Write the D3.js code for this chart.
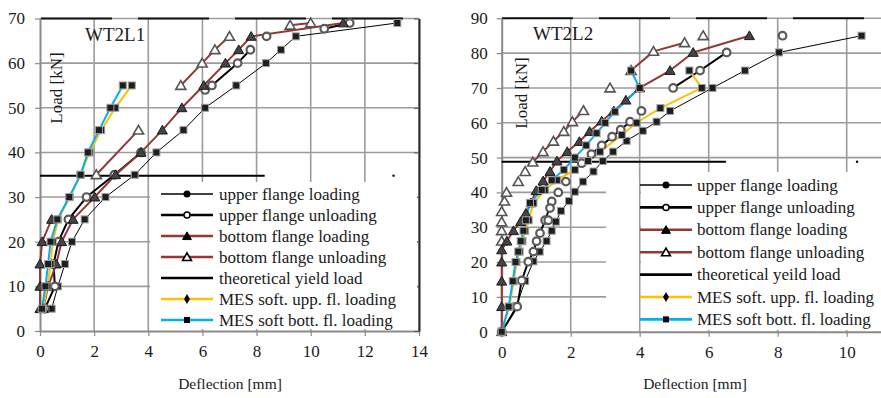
<!DOCTYPE html>
<html>
<head>
<meta charset="utf-8">
<script src="https://cdn.jsdelivr.net/npm/d3@7"></script>
<style>
  body { margin: 0; background: #fff; }
  svg { display: block; font-family: "Liberation Serif", "Times New Roman", serif; }
</style>
</head>
<body>
<svg id="chart" width="881" height="398"></svg>
<script>
// legend texts (right panel keeps the original "yeild" spelling)
const legendLeft = ["upper flange loading", "upper flange unloading", "bottom flange loading",
  "bottom flange unloading", "theoretical yield load", "MES soft. upp. fl. loading", "MES soft bott. fl. loading"];
const legendRight = ["upper flange loading", "upper flange unloading", "bottom flange loading",
  "bottom flange unloading", "theoretical yeild load", "MES soft. upp. fl. loading", "MES soft bott. fl. loading"];
const xLabel = "Deflection [mm]";
const yLabel = "Load [kN]";

// ---- WT2L1 : [deflection mm, load kN], each series is a list of segments
const l1Title = "WT2L1";
const l1XTicks = [0, 2, 4, 6, 8, 10, 12, 14];
const l1YTicks = [0, 10, 20, 30, 40, 50, 60, 70];
const l1UpLoad = [[[0.43,5],[0.66,10],[0.92,15],[1.18,20],[1.65,25],[2.42,30],[3.5,35],[4.3,40],[5.3,45],[6.1,50],[7.25,55],[8.35,60],[8.9,63],[9.45,66],[13.2,69]]];
const l1UpUnload = [
  [[0.18,5],[0.55,10],[0.5,15],[0.68,20],[1.05,25],[1.72,30],[2.75,35],[3.73,40]],
  [[6.1,54],[6.35,55],[7.3,60],[7.77,63]],
  [[10.5,67.7],[11.44,69]],
  [[8.37,66]]
];
const l1BotLoad = [
  [[0,5],[0,10],[0,15],[0.08,20],[0.43,25]],
  [[0.12,5],[0.3,10],[0.6,15],[0.8,20],[1.22,25],[2.02,30],[2.79,35],[3.73,40],[4.52,45],[5.24,50],[6.05,55],[6.85,60],[7.34,63],[7.8,66],[11.2,69]]
];
const l1BotUnload = [
  [[2.08,35],[3.64,45]],
  [[5.2,55],[5.99,60],[6.46,63],[7.0,66]],
  [[9.24,68.5],[10.0,69]]
];
const l1MesUpp = [[[0.1,5],[0.28,10],[0.39,15],[0.47,20],[0.67,25],[1.1,30],[1.49,35],[1.83,40],[2.26,45],[2.78,50],[3.39,55]]];
const l1MesBott = [[[0.07,5],[0.2,10],[0.3,15],[0.39,20],[0.64,25],[1.08,30],[1.5,35],[1.77,40],[2.18,45],[2.6,50],[3.06,55]]];
const l1Yield = [[[0,34.8],[8.3,34.8]], [[13.06,34.8]]];

// ---- WT2L2
const l2Title = "WT2L2";
const l2XTicks = [0, 2, 4, 6, 8, 10];
const l2YTicks = [0, 10, 20, 30, 40, 50, 60, 70, 80, 90];
const l2UpLoad = [[[0,0],[0.43,7.4],[0.68,14.6],[0.92,20.2],[1.1,23],[1.3,26],[1.45,29],[1.57,31.6],[1.72,34.7],[1.95,37.5],[2.12,40.2],[2.36,43.1],[2.66,46],[2.93,49],[3.23,51.7],[3.62,54.8],[4.09,57.7],[4.49,60.3],[4.88,63.4],[6.11,70],[7.05,75],[8.04,80.2],[10.43,85]]];
const l2UpUnload = [
  [[0,0],[0.45,7.2],[0.58,14.7],[0.77,20.1],[0.92,23],[1.01,26],[1.11,28.3],[1.26,32],[1.45,37.4]],
  [[2.32,48.4],[2.6,51],[2.9,53.5],[3.2,56],[3.45,58],[3.72,60.3]],
  [[4.97,70],[5.75,75],[6.52,80.2]],
  [[1.35,32]], [[1.4,35.5]], [[1.64,40]], [[1.86,43.1]], [[4.05,63.4]], [[8.14,85]]
];
const l2BotLoad = [[[0,0],[0,7.2],[0,14.5],[0,20],[0,23.5],[0.15,26],[0.34,29],[0.55,31.6],[0.7,34],[0.85,37],[1.0,40.5],[1.2,43.3],[1.4,46],[1.6,49],[1.9,51.7],[2.25,54.6],[2.55,57.5],[2.9,60.5],[3.25,63.4],[3.6,66.5],[4.0,70],[4.88,75],[5.55,80.2],[7.18,85]]];
const l2BotUnload = [
  [[0.9,48.7],[1.2,51.7],[1.5,54.7],[1.8,57.5],[2.05,60.3],[2.37,63.5]],
  [[3.75,75],[4.4,80.5],[5.3,83]],
  [[0,26]], [[0,29]], [[0,31.5]], [[0,34.5]], [[0.08,37.5]], [[0.14,40]], [[0.48,43.1]], [[0.68,46]], [[3.14,70]], [[5.84,85]]
];
const l2MesUpp = [[[0,0],[0.22,7.2],[0.35,14.5],[0.43,20],[0.52,23],[0.6,26],[0.68,29],[0.78,32],[0.92,37],[1.25,40.7],[1.6,43.5],[2.12,46.5],[2.5,49],[2.85,51.7],[3.48,56.5],[3.91,60],[4.6,64.2],[5.8,70],[5.44,75]]];
const l2MesBott = [[[0,0],[0.2,7.2],[0.32,14.5],[0.4,20],[0.48,23],[0.55,26],[0.63,29],[0.7,32],[0.82,37],[1.16,40.7],[1.45,43.5],[1.8,46.5],[2.12,50],[2.45,53.5],[2.75,57],[3.0,60],[3.28,63.2],[4.0,70],[3.75,75]]];
const l2Yield = [[[0,48.8],[6.5,48.8]], [[10.3,48.8]]];

const RED = "#953735", ORANGE = "#FFC000", BLUE = "#00B0F0", GRID = "#9c9c9c";
const keys = ["yield", "upLoad", "upUnload", "botUnload", "botLoad", "mesUpp", "mesBott"];
const legendOrder = ["upLoad", "upUnload", "botLoad", "botUnload", "yield", "mesUpp", "mesBott"];
const styles = {
  upLoad:    { color: "#000", width: 1,   marker: "fill",   lgMarker: "circle" },
  upUnload:  { color: "#000", width: 2,   marker: "open",   lgMarker: "ocircle" },
  botLoad:   { color: RED,    width: 2,   marker: "tri",    lgMarker: "tri" },
  botUnload: { color: RED,    width: 2,   marker: "otri",   lgMarker: "otri" },
  yield:     { color: "#000", width: 2,   marker: null,     lgMarker: null },
  mesUpp:    { color: ORANGE, width: 2,   marker: "fill",   lgMarker: "diamond" },
  mesBott:   { color: BLUE,   width: 2,   marker: "fill",   lgMarker: "square" }
};

const svg = d3.select("#chart");

function marker(g, type, cx, cy, legend) {
  if (type === "fill" || type === "square") {
    const s = legend ? 6 : 7;
    g.append("rect").attr("x", cx - s / 2).attr("y", cy - s / 2).attr("width", s).attr("height", s)
      .attr("fill", legend ? "#000" : "#1e1e1e").attr("stroke", legend ? "none" : "#a0a0a0").attr("stroke-width", 1);
  } else if (type === "circle") {
    g.append("circle").attr("cx", cx).attr("cy", cy).attr("r", 3.5).attr("fill", "#000");
  } else if (type === "open" || type === "ocircle") {
    g.append("circle").attr("cx", cx).attr("cy", cy).attr("r", legend ? 3 : 3.8)
      .attr("fill", "#fff").attr("stroke", legend ? "#000" : "#5a5a5a").attr("stroke-width", legend ? 1.5 : 2.2);
  } else if (type === "tri" || type === "otri") {
    const open = type === "otri";
    g.append("path").attr("d", d3.symbol(d3.symbolTriangle, legend ? 34 : 44)())
      .attr("transform", `translate(${cx},${cy + 1})`)
      .attr("fill", open ? "#fff" : (legend ? "#000" : "#444"))
      .attr("stroke", legend ? "#000" : (open ? "#555" : "#1a1a1a"))
      .attr("stroke-width", open ? 1.6 : 1);
  } else if (type === "diamond") {
    g.append("path").attr("d", d3.symbol(d3.symbolDiamond, 30)())
      .attr("transform", `translate(${cx},${cy})`).attr("fill", "#000");
  }
}

function drawPanel(p) {
  const x = d3.scaleLinear().domain([0, p.xMax]).range(p.xRange);
  const y = d3.scaleLinear().domain([0, p.yMax]).range(p.yRange);
  const g = svg.append("g");

  // grid
  g.append("g").selectAll("line").data(p.xTicks.filter(t => t > 0)).join("line")
    .attr("x1", d => x(d)).attr("x2", d => x(d)).attr("y1", y(p.yMax)).attr("y2", y(0))
    .attr("stroke", GRID).attr("stroke-width", 1.6);
  g.append("g").selectAll("line").data(p.yTicks.filter(t => t > 0)).join("line")
    .attr("x1", x(0)).attr("x2", x(p.xMax)).attr("y1", d => y(d)).attr("y2", d => y(d))
    .attr("stroke", GRID).attr("stroke-width", 1.6);
  // dark dashes on the top border
  g.append("line").attr("x1", p.dashStart).attr("x2", x(p.xMax)).attr("y1", y(p.yMax)).attr("y2", y(p.yMax))
    .attr("stroke", "#111").attr("stroke-width", 2).attr("stroke-dasharray", "71,26");

  // axes
  const yAxis = g.append("g").attr("transform", `translate(${x(0)},0)`)
    .call(d3.axisLeft(y).tickValues(p.yTicks).tickSize(5).tickSizeOuter(0).tickPadding(p.yPad));
  const xAxis = g.append("g").attr("transform", `translate(0,${y(0)})`)
    .call(d3.axisBottom(x).tickValues(p.xTicks).tickSize(5).tickSizeOuter(0).tickPadding(9));
  [yAxis, xAxis].forEach(a => {
    a.select(".domain").attr("stroke", "#8a8a8a").attr("stroke-width", 2);
    a.selectAll(".tick line").attr("stroke", "#8a8a8a").attr("stroke-width", 1.2);
    a.selectAll(".tick text").attr("font-size", 17).attr("fill", "#1a1a1a")
      .attr("font-family", "Liberation Serif, Times New Roman, serif");
  });
  if (p.rightBorder) {
    const rb = g.append("g").attr("transform", `translate(${x(p.xMax)},0)`)
      .call(d3.axisLeft(y).tickValues(p.yTicks).tickSize(5).tickSizeOuter(0).tickFormat(""));
    rb.select(".domain").attr("stroke", "#2a2a2a").attr("stroke-width", 2);
    rb.selectAll(".tick line").attr("stroke", "#555");
  }

  // series lines
  const line = d3.line().x(d => x(d[0])).y(d => y(d[1]));
  keys.forEach(k => {
    const st = styles[k];
    g.append("g").selectAll("path").data(p.series[k].filter(s => s.length > 1)).join("path")
      .attr("d", line).attr("fill", "none").attr("stroke", st.color)
      .attr("stroke-width", st.width).attr("stroke-linejoin", "round");
  });
  // yield end dot
  p.series.yield.filter(s => s.length === 1).forEach(s =>
    g.append("circle").attr("cx", x(s[0][0])).attr("cy", y(s[0][1])).attr("r", 1.2).attr("fill", "#000"));
  // markers
  const mg = g.append("g");
  keys.forEach(k => {
    const st = styles[k];
    if (!st.marker) return;
    p.series[k].flat().forEach(pt => marker(mg, st.marker, x(pt[0]), y(pt[1]), false));
  });

  // legend box covers grid
  p.legendBg.forEach(r => g.append("rect").attr("x", r[0]).attr("y", r[1]).attr("width", r[2]).attr("height", r[3]).attr("fill", "#fff"));
  const lg = g.append("g");
  legendOrder.forEach((k, i) => {
    const st = styles[k];
    const yy = p.lg.y0 + i * p.lg.dy;
    lg.append("line").attr("x1", p.lg.x1).attr("x2", p.lg.x2).attr("y1", yy).attr("y2", yy)
      .attr("stroke", st.color).attr("stroke-width", k === "upLoad" ? 1.4 : 2.6);
    if (st.lgMarker) marker(lg, st.lgMarker, (p.lg.x1 + p.lg.x2) / 2, yy, true);
    lg.append("text").attr("x", p.lg.tx).attr("y", yy).attr("dy", "0.33em")
      .attr("font-size", 17).attr("fill", "#1a1a1a").text(p.legend[i]);
  });

  // titles
  g.append("text").attr("x", p.titlePos[0]).attr("y", p.titlePos[1]).attr("font-size", 19)
    .attr("fill", "#1a1a1a").text(p.title);
  g.append("text").attr("transform", `translate(${p.yLabelPos[0]},${p.yLabelPos[1]}) rotate(-90)`)
    .attr("text-anchor", "middle").attr("font-size", 17).attr("fill", "#1a1a1a").text(yLabel);
  g.append("text").attr("x", p.xLabelPos[0]).attr("y", p.xLabelPos[1]).attr("text-anchor", "middle")
    .attr("font-size", 15.5).attr("fill", "#1a1a1a").text(xLabel);
}

drawPanel({
  title: l1Title, xTicks: l1XTicks, yTicks: l1YTicks, xMax: 14, yMax: 70,
  xRange: [40, 419], yRange: [331, 18.5], yPad: 10, dashStart: 41, rightBorder: true,
  series: { upLoad: l1UpLoad, upUnload: l1UpUnload, botLoad: l1BotLoad, botUnload: l1BotUnload,
            yield: l1Yield, mesUpp: l1MesUpp, mesBott: l1MesBott },
  legend: legendLeft,
  legendBg: [[150, 182, 267, 147]],
  lg: { x1: 161, x2: 213, tx: 219, y0: 194, dy: 21 },
  titlePos: [85, 41], yLabelPos: [62, 88], xLabelPos: [230, 389]
});

drawPanel({
  title: l2Title, xTicks: l2XTicks, yTicks: l2YTicks, xMax: 12, yMax: 90,
  xRange: [501.7, 915.7], yRange: [331.7, 18.3], yPad: 9, dashStart: 502, rightBorder: false,
  series: { upLoad: l2UpLoad, upUnload: l2UpUnload, botLoad: l2BotLoad, botUnload: l2BotUnload,
            yield: l2Yield, mesUpp: l2MesUpp, mesBott: l2MesBott },
  legend: legendRight,
  legendBg: [[606, 180, 33, 150], [641, 172, 240, 158]],
  lg: { x1: 640, x2: 692, tx: 697, y0: 185, dy: 22.4 },
  titlePos: [533, 40], yLabelPos: [527, 93], xLabelPos: [695, 389]
});
</script>
</body>
</html>
